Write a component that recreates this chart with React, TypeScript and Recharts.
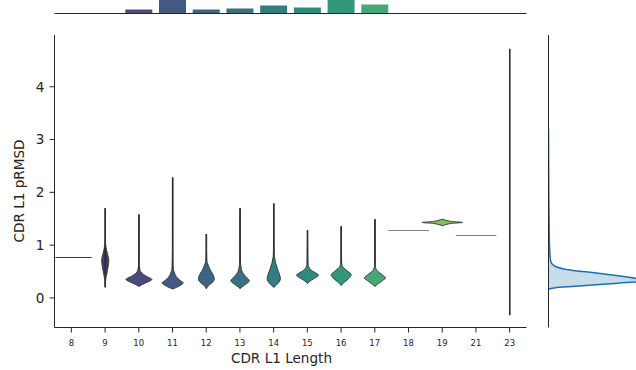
import React from 'react';
import { ComposedChart, BarChart, Bar, Area, XAxis, YAxis, Cell } from 'recharts';

// CDR L1 length categories (x axis)
const lengths = ['8', '9', '10', '11', '12', '13', '14', '15', '16', '17', '18', '19', '21', '23'];
// pRMSD range per length
const rmsdMin = [0.77, 0.2, 0.22, 0.17, 0.18, 0.18, 0.2, 0.28, 0.24, 0.22, 1.28, 1.37, 1.19, -0.33];
const rmsdMax = [0.77, 1.7, 1.58, 2.28, 1.21, 1.7, 1.79, 1.28, 1.36, 1.49, 1.28, 1.49, 1.19, 4.72];
// violin outlines: [pRMSD, width as share of the category band]
const violinProfiles: [number, number][][] = [
  [[0.77, 1.19]],
  [[0.2, 0], [0.35, 0.03], [0.5, 0.12], [0.71, 0.21], [0.85, 0.12], [1.0, 0.03], [1.2, 0.01], [1.7, 0]],
  [[0.22, 0], [0.27, 0.3], [0.33, 0.7], [0.36, 0.74], [0.4, 0.5], [0.45, 0.25], [0.5, 0.1], [0.6, 0.03], [0.8, 0.01], [1.58, 0]],
  [[0.17, 0], [0.21, 0.3], [0.26, 0.55], [0.29, 0.62], [0.33, 0.45], [0.4, 0.22], [0.5, 0.08], [0.6, 0.03], [0.9, 0.01], [2.28, 0]],
  [[0.18, 0], [0.24, 0.15], [0.3, 0.38], [0.37, 0.47], [0.45, 0.38], [0.55, 0.2], [0.65, 0.08], [0.75, 0.02], [1.21, 0]],
  [[0.18, 0], [0.24, 0.25], [0.3, 0.5], [0.34, 0.53], [0.4, 0.35], [0.48, 0.15], [0.6, 0.05], [0.8, 0.02], [1.7, 0]],
  [[0.2, 0], [0.26, 0.2], [0.32, 0.35], [0.38, 0.39], [0.45, 0.33], [0.55, 0.22], [0.65, 0.12], [0.75, 0.06], [0.9, 0.02], [1.79, 0]],
  [[0.28, 0], [0.33, 0.2], [0.38, 0.45], [0.43, 0.65], [0.48, 0.45], [0.53, 0.2], [0.6, 0.06], [0.7, 0.02], [1.28, 0]],
  [[0.24, 0], [0.3, 0.2], [0.37, 0.45], [0.44, 0.59], [0.5, 0.4], [0.56, 0.18], [0.62, 0.05], [0.75, 0.02], [1.36, 0]],
  [[0.22, 0], [0.27, 0.2], [0.33, 0.45], [0.38, 0.62], [0.44, 0.42], [0.5, 0.18], [0.56, 0.06], [0.7, 0.02], [1.49, 0]],
  [[1.28, 1.19]],
  [[1.37, 0], [1.41, 0.5], [1.43, 1.19], [1.45, 0.5], [1.49, 0]],
  [[1.19, 1.19]],
  [[-0.33, 0], [4.72, 0]],
];
// top marginal: number of structures per length
const lengthCounts = [0, 0, 4, 30, 4, 5, 8, 6, 22, 9, 0, 0, 0, 0];
// right marginal: KDE of pRMSD
const kdeRmsd = [0.15, 0.17, 0.19, 0.22, 0.25, 0.28, 0.31, 0.34, 0.37, 0.41, 0.45, 0.49, 0.52, 0.55, 0.58, 0.62, 0.66, 0.72, 0.85, 1.0, 1.3, 1.6, 2.0, 2.5, 3.0, 3.2];
const kdeDensity = [0, 0.5, 6, 27, 48, 70, 92, 100, 88, 74, 58, 40, 25, 15, 9, 5, 3, 2, 1.4, 1.0, 0.7, 0.5, 0.3, 0.15, 0.05, 0];

const yTicks = [0, 1, 2, 3, 4];
const yDomain = [-0.56, 4.98];
const ink = '#262626';
const font = 'DejaVu Sans';

// viridis, desaturated like seaborn does
const viridis = ['#440154', '#482475', '#414487', '#355f8d', '#2a788e', '#21918c', '#22a884', '#44bf70', '#7ad151', '#bddf26', '#fde725'];
const hex = (h: string) => [1, 3, 5].map(i => parseInt(h.slice(i, i + 2), 16) / 255);
function viridisAt(t: number) {
  const p = t * 10;
  const i = Math.min(9, Math.floor(p));
  const f = p - i;
  const a = hex(viridis[i]);
  const b = hex(viridis[i + 1]);
  return a.map((v, k) => v + (b[k] - v) * f);
}
function desat([r, g, b]: number[], prop: number) {
  const mx = Math.max(r, g, b);
  const mn = Math.min(r, g, b);
  const l = (mx + mn) / 2;
  if (mx === mn) return [r, g, b];
  const s = l <= 0.5 ? (mx - mn) / (mx + mn) : (mx - mn) / (2 - mx - mn);
  const s2 = s * prop;
  const hi = l <= 0.5 ? l * (1 + s2) : l + s2 - l * s2;
  const lo = 2 * l - hi;
  return [r, g, b].map(v => lo + ((v - mn) / (mx - mn)) * (hi - lo));
}
const toHex = (c: number[]) => '#' + c.map(v => Math.round(v * 255).toString(16).padStart(2, '0')).join('');
const palette = lengths.map((_, i) => toHex(desat(viridisAt((i + 1) / (lengths.length + 1)), 0.75)));

const violinData = lengths.map((len, i) => ({ len, range: [rmsdMin[i], rmsdMax[i]], profile: violinProfiles[i] }));
const countData = lengths.map((len, i) => ({ len, count: lengthCounts[i] }));
const kdeData = kdeRmsd.map((v, i) => ({ v, d: kdeDensity[i] }));

function smooth(pts: number[][]) {
  let d = '';
  for (let i = 0; i < pts.length - 1; i++) {
    const p0 = pts[i - 1] || pts[i];
    const p1 = pts[i];
    const p2 = pts[i + 1];
    const p3 = pts[i + 2] || p2;
    const c1 = [p1[0] + (p2[0] - p0[0]) / 6, p1[1] + (p2[1] - p0[1]) / 6];
    const c2 = [p2[0] - (p3[0] - p1[0]) / 6, p2[1] - (p3[1] - p1[1]) / 6];
    d += ` C${c1[0]},${c1[1]} ${c2[0]},${c2[1]} ${p2[0]},${p2[1]}`;
  }
  return d;
}

const Violin = (props: any) => {
  const { x, y, width, height, payload, index } = props;
  const [lo, hi] = payload.range;
  const top = Math.min(y, y + height);
  const bottom = Math.max(y, y + height);
  const py = (v: number) => (hi === lo ? top : bottom - ((v - lo) / (hi - lo)) * (bottom - top));
  const cx = x + width / 2;
  const plotLeft = x - index * width;
  const prof: [number, number][] = payload.profile;

  if (prof.length === 1) {
    const half = (prof[0][1] * width) / 2;
    const ly = Math.round(py(prof[0][0])) + 0.5;
    const col = index === 0 ? '#3a3a3a' : '#808080';
    return <line x1={Math.max(cx - half, plotLeft + 1)} x2={cx + half} y1={ly} y2={ly} stroke={col} strokeWidth={1.2} />;
  }
  const right = prof.map(([v, w]) => [cx + (w * width) / 2, py(v)]);
  const left = [...prof].reverse().map(([v, w]) => [cx - (w * width) / 2, py(v)]);
  const d = `M${right[0][0]},${right[0][1]}` + smooth(right) + ` L${left[0][0]},${left[0][1]}` + smooth(left) + ' Z';
  const body = prof.some(p => p[1] > 0);
  return (
    <g>
      <line x1={cx} x2={cx} y1={py(hi)} y2={py(lo)} stroke="#2b2b2b" strokeWidth={1.6} />
      {body && <path d={d} fill={palette[index]} stroke="#333" strokeWidth={0.9} />}
      {index === 1 && <line x1={cx} x2={cx} y1={py(0.95)} y2={py(0.45)} stroke="#2b2b2b" strokeWidth={1.6} />}
    </g>
  );
};

const XLabel = ({ viewBox }: any) => (
  <text x={viewBox.x + viewBox.width / 2 - 9} y={363} textAnchor="middle" fontSize={13.6} fontFamily={font} fill={ink}>
    CDR L1 Length
  </text>
);

const YLabel = () => (
  <text x={23.5} y={191} transform="rotate(-90, 23.5, 191)" textAnchor="middle" fontSize={13.6} fontFamily={font} fill={ink}>
    CDR L1 pRMSD
  </text>
);

export default function App() {
  return (
    <div style={{ position: 'fixed', left: 0, top: 0, width: 636, height: 370, overflow: 'hidden', background: '#fff' }}>
      <div style={{ position: 'absolute', left: 0, top: -40 }}>
        <BarChart width={636} height={70.5} data={countData} margin={{ top: 0, right: 109.5, left: 54.5, bottom: 0 }} barCategoryGap="10%">
          <XAxis dataKey="len" height={17} tick={false} tickSize={4} stroke={ink} />
          <YAxis hide domain={[0, 53.5]} />
          <Bar dataKey="count" isAnimationActive={false}>
            {countData.map((_, i) => (
              <Cell key={i} fill={palette[i]} />
            ))}
          </Bar>
        </BarChart>
      </div>

      <div style={{ position: 'absolute', left: 0, top: 0 }}>
        <ComposedChart width={636} height={370} data={violinData} margin={{ top: 35, right: 109.5, left: 0, bottom: 0 }} barCategoryGap={0}>
          <XAxis
            dataKey="len"
            height={42.5}
            tickSize={5}
            tickMargin={7}
            stroke={ink}
            tick={{ fontSize: 8.5, fontFamily: font, fill: ink }}
            label={<XLabel />}
          />
          <YAxis
            type="number"
            domain={yDomain}
            ticks={yTicks}
            allowDataOverflow
            width={54.5}
            tickSize={5}
            tickMargin={5}
            stroke={ink}
            tick={{ fontSize: 13.6, fontFamily: font, fill: ink }}
            label={<YLabel />}
          />
          <Bar dataKey="range" shape={<Violin />} isAnimationActive={false} />
        </ComposedChart>
      </div>

      <div style={{ position: 'absolute', left: 500, top: 0 }}>
        <ComposedChart layout="vertical" width={136} height={370} data={kdeData} margin={{ top: 35, right: 0, left: 0, bottom: 42.5 }}>
          <XAxis type="number" hide domain={[0, 88]} allowDataOverflow />
          <YAxis type="number" dataKey="v" domain={yDomain} ticks={yTicks} reversed allowDataOverflow width={48.5} tick={false} tickSize={5} stroke={ink} />
          <Area dataKey="d" type="monotone" stroke="#1f6fb4" strokeWidth={1.5} fill="#1f77b4" fillOpacity={0.25} isAnimationActive={false} />
        </ComposedChart>
      </div>
    </div>
  );
}
